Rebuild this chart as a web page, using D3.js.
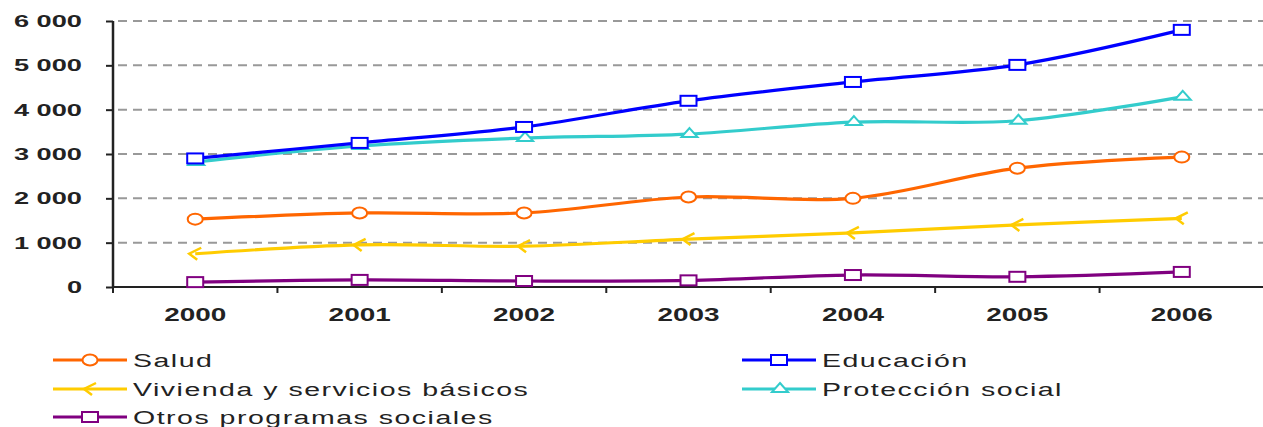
<!DOCTYPE html>
<html>
<head>
<meta charset="utf-8">
<script src="https://cdn.jsdelivr.net/npm/d3@7"></script>
<style>
html,body{margin:0;padding:0;background:#fff;}
svg{display:block;font-family:"Liberation Sans",Arial,sans-serif;}
</style>
</head>
<body>
<svg id="chart" width="1263" height="427"></svg>
<script>
const years = ["2000","2001","2002","2003","2004","2005","2006"];
const yTicks = [0,1000,2000,3000,4000,5000,6000];
const salud = [1530,1670,1670,2030,2000,2680,2930];
const educacion = [2900,3250,3610,4200,4625,5010,5800];
const vivienda = [750,950,920,1080,1220,1400,1550];
const proteccion = [2820,3180,3360,3450,3720,3750,4290];
const otros = [110,160,135,150,270,230,340];
const seriesNames = ["Salud","Educación","Vivienda y servicios básicos","Protección social","Otros programas sociales"];
const seriesColors = ["#ff6600","#0000ff","#ffcc00","#33cccc","#800080"];
const seriesMarkers = ["circle","square","chevron","triangle","square"];
const seriesValues = [salud,educacion,vivienda,proteccion,otros];

const svg = d3.select("#chart");
const x = d3.scaleBand().domain(years).range([113,1264]);
const y = d3.scaleLinear().domain([0,6000]).range([287,21]);
const fmt = v => v===0 ? "0" : d3.format(",")(v).replace(/,/g," ");

// gridlines
svg.append("g").selectAll("line").data(yTicks.filter(d=>d>0)).join("line")
  .attr("x1",118).attr("x2",1263)
  .attr("y1",d=>y(d)).attr("y2",d=>y(d))
  .attr("stroke","#999").attr("stroke-width",2).attr("stroke-dasharray","9,6");

// y axis
const yAx = svg.append("g").attr("transform","translate(113,0)")
  .call(d3.axisLeft(y).tickValues(yTicks).tickSize(7).tickFormat(""));
yAx.select(".domain").attr("stroke","#222").attr("stroke-width",2.5).attr("d","M0,"+y(6000)+"V"+y(0));
yAx.selectAll(".tick line").attr("stroke","#222").attr("stroke-width",2);
svg.append("g").selectAll("text").data(yTicks).join("text")
  .attr("transform",d=>`translate(82,${y(d)+6}) scale(1.6,1)`)
  .attr("text-anchor","end").attr("font-size",17).attr("font-weight","bold")
  .attr("fill","#222").text(fmt);

// x axis
const xAx = svg.append("g").attr("transform","translate(0,287)")
  .call(d3.axisBottom(x).tickSize(0).tickFormat(""));
xAx.select(".domain").attr("stroke","#222").attr("stroke-width",2).attr("d","M113,0H1263");
svg.append("g").selectAll("line").data(years.map(d=>x(d)).concat([x.range()[1]])).join("line")
  .attr("x1",d=>d).attr("x2",d=>d).attr("y1",287).attr("y2",293)
  .attr("stroke","#222").attr("stroke-width",2);
svg.append("g").selectAll("text").data(years).join("text")
  .attr("transform",d=>`translate(${x(d)+x.bandwidth()/2},321) scale(1.55,1)`)
  .attr("text-anchor","middle").attr("font-size",18).attr("font-weight","bold")
  .attr("fill","#222").text(d=>d);

function drawMarker(g, type, color){
  if(type==="circle"){
    g.append("ellipse").attr("rx",7.5).attr("ry",5.5).attr("fill","#fff").attr("stroke",color).attr("stroke-width",2);
  } else if(type==="square"){
    g.append("rect").attr("x",-8).attr("y",-5).attr("width",16).attr("height",10).attr("fill","#fff").attr("stroke",color).attr("stroke-width",2);
  } else if(type==="chevron"){
    g.append("path").attr("d","M6,-6 L-6,0 L2,6").attr("fill","none").attr("stroke",color).attr("stroke-width",2.5);
  } else if(type==="triangle"){
    g.append("path").attr("d","M1,-6 L9,3 L-7,3 Z").attr("fill","#fff").attr("stroke",color).attr("stroke-width",2);
  }
}

const line = d3.line().x((d,i)=>x(years[i])+x.bandwidth()/2).y(d=>y(d)).curve(d3.curveCatmullRom.alpha(0.5));
const order = [4,2,0,3,1];
order.forEach(si=>{
  const vals = seriesValues[si], c = seriesColors[si];
  svg.append("path").datum(vals).attr("d",line).attr("fill","none").attr("stroke",c).attr("stroke-width",3.2);
  vals.forEach((v,i)=>{
    const g = svg.append("g").attr("transform",`translate(${x(years[i])+x.bandwidth()/2},${y(v)})`);
    drawMarker(g, seriesMarkers[si], c);
  });
});

// legend
const legendPos = [[53,360],[742,360],[53,389],[742,389],[53,417]];
seriesNames.forEach((name,i)=>{
  const [lx,ly] = legendPos[i];
  const g = svg.append("g").attr("transform",`translate(${lx},${ly})`);
  g.append("line").attr("x1",0).attr("x2",74).attr("y1",0).attr("y2",0).attr("stroke",seriesColors[i]).attr("stroke-width",3.2);
  const m = g.append("g").attr("transform","translate(37,0)");
  drawMarker(m, seriesMarkers[i], seriesColors[i]);
  g.append("text").attr("transform","translate(80,7) scale(1.5,1)")
    .attr("font-size",19).attr("letter-spacing",1).attr("fill","#222").text(name);
});
</script>
</body>
</html>
